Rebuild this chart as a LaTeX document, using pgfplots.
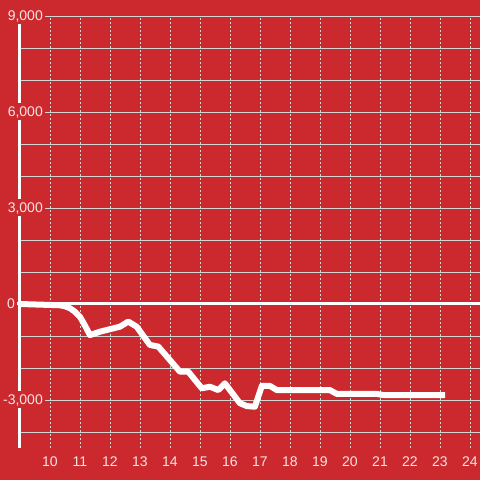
\documentclass[border=0pt]{standalone}
\usepackage{pgfplots}
\pgfplotsset{compat=1.18}
\usepackage{fontspec}
\setmainfont{Liberation Sans}
\definecolor{bgred}{RGB}{204,41,46}
\definecolor{gridgray}{RGB}{212,212,212}
\definecolor{txt}{RGB}{245,228,228}
\begin{document}
\begin{tikzpicture}
\begin{axis}[
  set layers,
  scale only axis,
  width=460pt, height=432pt,
  at={(0pt,0pt)}, anchor=south west,
  xmin=9, xmax=24.3333,
  ymin=-4500, ymax=9000,
  separate axis lines,
  axis y line*=left, axis x line*=bottom,
  x axis line style={draw=none},
  y axis line style={draw=white, line width=3pt},
  major tick length=0pt, minor tick length=0pt,
  xtick={10,...,24},
  ytick={-3000,3000,6000,9000},
  yticklabels={-3{,}000,3{,}000,6{,}000,9{,}000},
  minor ytick={-4000,-2000,-1000,1000,2000,4000,5000,7000,8000},
  extra y ticks={0},
  extra y tick labels={0},
  extra y tick style={
    yticklabel style={fill=none, xshift=-28pt},
  },
  xmajorgrids, ymajorgrids, yminorgrids,
  x grid style={draw=gridgray, line width=0.9pt, dash pattern=on 2pt off 2pt},
  y grid style={draw=gridgray, line width=0.9pt},
  minor y grid style={draw=gridgray, line width=0.9pt},
  ticklabel style={font=\fontsize{14}{16}\selectfont, text=txt},
  yticklabel style={anchor=east, fill=bgred, inner xsep=2pt, inner ysep=3.5pt,
    text height=10pt, text depth=0pt, xshift=25pt},
  xticklabel style={anchor=north, inner sep=2pt, text height=10pt, text depth=0pt, yshift=-6pt},
  /pgf/number format/assume math mode=true,
]
\begin{pgfonlayer}{axis background}
\fill[bgred] ([xshift=-20pt,yshift=-32pt]rel axis cs:0,0) rectangle ([xshift=20pt,yshift=16pt]rel axis cs:1,1);
\end{pgfonlayer}
\begin{pgfonlayer}{axis lines}
\draw[white, line width=3pt] ([xshift=-3pt]axis cs:9,0) -- (axis cs:24.3333,0);
\end{pgfonlayer}
\addplot[white, line width=6pt, line join=round] coordinates {
(9,0) (10,-30) (10.33,-40) (10.5,-70) (10.67,-135) (10.83,-240) (11,-400)
(11.17,-680) (11.33,-970) (11.67,-865) (12.33,-710) (12.61,-550) (12.89,-710)
(13.33,-1280) (13.61,-1330) (14.33,-2115) (14.61,-2115) (15.06,-2635)
(15.33,-2585) (15.61,-2690) (15.83,-2480) (16.33,-3100) (16.56,-3190)
(16.83,-3210) (17.06,-2560) (17.33,-2560) (17.56,-2690) (19.33,-2690)
(19.56,-2810) (20.89,-2810) (21.11,-2845) (23.17,-2845)
};
\end{axis}
\pgfresetboundingbox
\path (-20pt,-32pt) rectangle (460pt,448pt);
\end{tikzpicture}
\end{document}
